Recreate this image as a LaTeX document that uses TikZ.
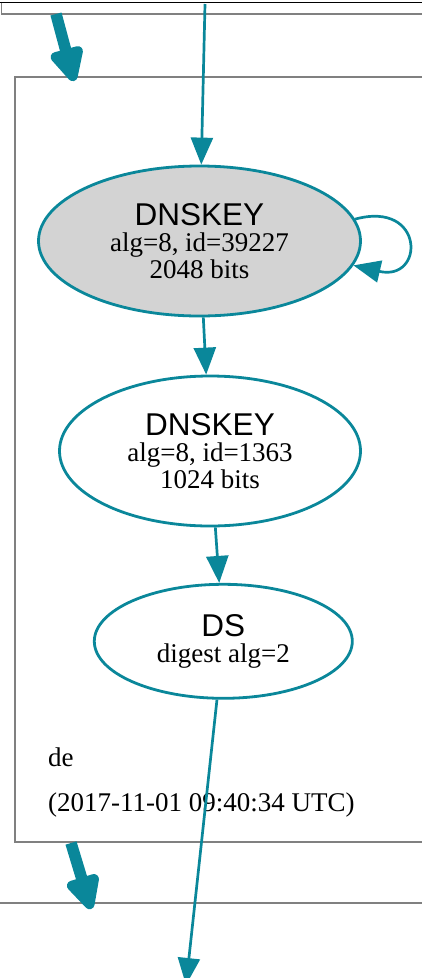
\documentclass[tikz,border=0pt]{standalone}
\usepackage{fontspec}
\setmainfont{Liberation Serif}
\setsansfont{Liberation Sans}
\usetikzlibrary{shapes.geometric, arrows.meta, positioning, calc}
\definecolor{secure}{HTML}{0A879A}
\definecolor{keyfill}{HTML}{D3D3D3}
\definecolor{zoneline}{HTML}{808080}

\begin{document}
\begin{tikzpicture}[
    x=1pt, y=-1pt,
    >={Triangle[length=27pt, width=22pt]},
    every node/.style={font=\fontsize{27}{26.5}\selectfont, align=center, inner sep=0pt},
    rrset/.style={ellipse, draw=secure, line width=2.8pt},
    link/.style={->, draw=secure, line width=2.7pt},
    delegation/.style={-{Triangle[round, length=40pt, width=36pt]}, draw=secure, line width=11.5pt},
    zonebox/.style={draw=zoneline, line width=1.5pt}
]
    \useasboundingbox (0,0) rectangle (422,978);

    % zone frames
    \draw[black, line width=1.6pt] (0,2.5) -- (422,2.5);
    \draw[zonebox] (1.5,2.5) -- (1.5,14) -- (425,14);
    \draw[zonebox] (425,77) -- (15,77) -- (15,842) -- (425,842);
    \draw[zonebox] (-5,903) -- (425,903);

    \node[rrset, fill=keyfill, minimum width=322pt, minimum height=150pt] (ksk) at (199.5,241)
        {{\sffamily\fontsize{31.5}{26.5}\selectfont DNSKEY}\\alg=8, id=39227\\2048 bits};
    \node[rrset, minimum width=301pt, minimum height=150pt] (zsk) at (210,451)
        {{\sffamily\fontsize{31.5}{26.5}\selectfont DNSKEY}\\alg=8, id=1363\\1024 bits};
    \node[rrset, minimum width=258pt, minimum height=114pt] (ds) at (223.3,641.3)
        {{\sffamily\fontsize{31.5}{26.5}\selectfont DS}\\digest alg=2};

    \node[anchor=base west] (zonename) at (48,766) {de};
    \node[anchor=base west] (zonetime) at (48,811.7) {(2017-11-01 09:40:34 UTC)};

    \coordinate (parentds) at (205,4);
    \coordinate (childkey) at (186,985);
    \coordinate (dlgtop) at (56,14);
    \coordinate (dlgtoptip) at (74,81);
    \coordinate (dlgbot) at (71,843);
    \coordinate (dlgbottip) at (91,909);

    \draw[link] (parentds) -- (ksk);
    \draw[link] (ksk.8) .. controls (425,200) and (425,282) .. (ksk.-9);
    \draw[link] (ksk) -- (zsk);
    \draw[link] (zsk) -- (ds);
    \draw[link] (ds) -- (childkey);

    \draw[delegation] (dlgtop) -- (dlgtoptip);
    \draw[delegation] (dlgbot) -- (dlgbottip);
\end{tikzpicture}
\end{document}
